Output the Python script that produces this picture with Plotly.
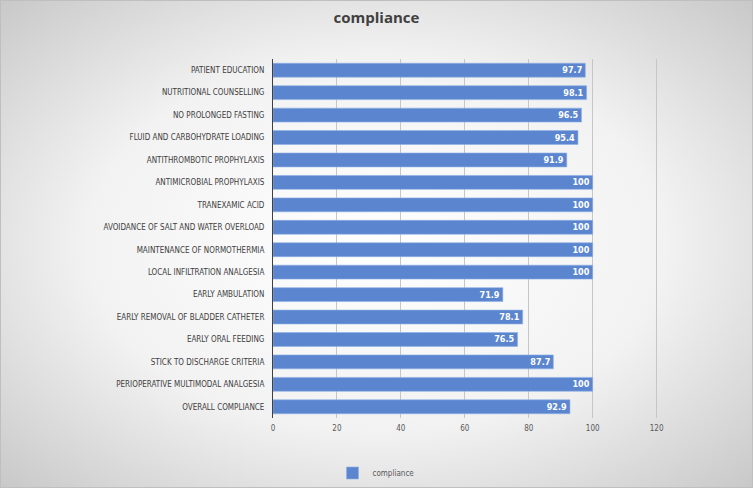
import base64
import plotly.graph_objects as go

# data, top to bottom as shown
categories = [
    "PATIENT EDUCATION",
    "NUTRITIONAL COUNSELLING",
    "NO PROLONGED FASTING",
    "FLUID AND CARBOHYDRATE LOADING",
    "ANTITHROMBOTIC PROPHYLAXIS",
    "ANTIMICROBIAL PROPHYLAXIS",
    "TRANEXAMIC ACID",
    "AVOIDANCE OF SALT AND WATER OVERLOAD",
    "MAINTENANCE OF NORMOTHERMIA",
    "LOCAL INFILTRATION ANALGESIA",
    "EARLY AMBULATION",
    "EARLY REMOVAL OF BLADDER CATHETER",
    "EARLY ORAL FEEDING",
    "STICK TO DISCHARGE CRITERIA",
    "PERIOPERATIVE MULTIMODAL ANALGESIA",
    "OVERALL COMPLIANCE",
]
compliance = [97.7, 98.1, 96.5, 95.4, 91.9, 100, 100, 100, 100, 100,
              71.9, 78.1, 76.5, 87.7, 100, 92.9]
x_ticks = [0, 20, 40, 60, 80, 100, 120]

W, H = 753, 488
L, R, T, B = 273, 90, 59, 70
pw, ph = W - L - R, H - T - B

# radial gradient background as svg image
svg = f"""<svg xmlns='http://www.w3.org/2000/svg' width='{W}' height='{H}'>
<defs><radialGradient id='g' cx='50%' cy='50%' r='70%'>
<stop offset='0%' stop-color='#ffffff'/>
<stop offset='55%' stop-color='#f2f2f2'/>
<stop offset='100%' stop-color='#c9c9c9'/>
</radialGradient></defs>
<rect width='{W}' height='{H}' fill='url(#g)'/>
<rect x='0.5' y='0.5' width='{W-1}' height='{H-1}' fill='none' stroke='#bfbfbf'/>
</svg>"""
bg_src = "data:image/svg+xml;base64," + base64.b64encode(svg.encode()).decode()

font = "DejaVu Sans Condensed, Liberation Sans Narrow, sans-serif"

fig = go.Figure()

fig.add_trace(
    go.Bar(
        y=categories,
        x=compliance,
        orientation="h",
        name="compliance",
        marker=dict(color="#5B86CF", line=dict(color="#8fb0e6", width=0.6)),
        text=[f"{v:g}" for v in compliance],
        textposition="inside",
        insidetextanchor="end",
        constraintext="none",
        textfont=dict(color="white", size=9, family="DejaVu Sans Condensed",
                      weight="bold"),
    )
)

fig.update_layout(
    width=W,
    height=H,
    margin=dict(l=L, r=R, t=T, b=B, autoexpand=False),
    paper_bgcolor="#eeeeee",
    plot_bgcolor="rgba(0,0,0,0)",
    title=dict(text="<b>compliance</b>", x=0.5, xanchor="center",
               y=1 - 18 / H, yanchor="middle",
               font=dict(size=15, color="#404040", family="Open Sans")),
    bargap=0.38,
    showlegend=True,
    legend=dict(orientation="h", x=(376 - L) / pw, xanchor="center",
                y=-(473 - (H - B)) / ph, yanchor="middle",
                bgcolor="rgba(0,0,0,0)", itemwidth=30,
                font=dict(size=8, color="#595959", family=font)),
    xaxis=dict(range=[0, 122], tickvals=x_ticks, showgrid=True,
               gridcolor="#c6c6c6", gridwidth=1, zeroline=False,
               automargin=False, ticklabelstandoff=4,
               tickfont=dict(size=8, color="#595959", family=font)),
    yaxis=dict(autorange="reversed", showline=True, linecolor="#404040",
               linewidth=1, ticks="", ticklabelstandoff=6, automargin=False,
               tickfont=dict(size=8, color="#404040", family=font)),
    images=[dict(source=bg_src, xref="paper", yref="paper",
                 x=-L / pw, y=1 + T / ph, sizex=W / pw, sizey=H / ph,
                 xanchor="left", yanchor="top", sizing="stretch", layer="below")],
)

fig.write_html("out.html", config={"displayModeBar": False},
               post_script="document.body.style.margin='0';")
